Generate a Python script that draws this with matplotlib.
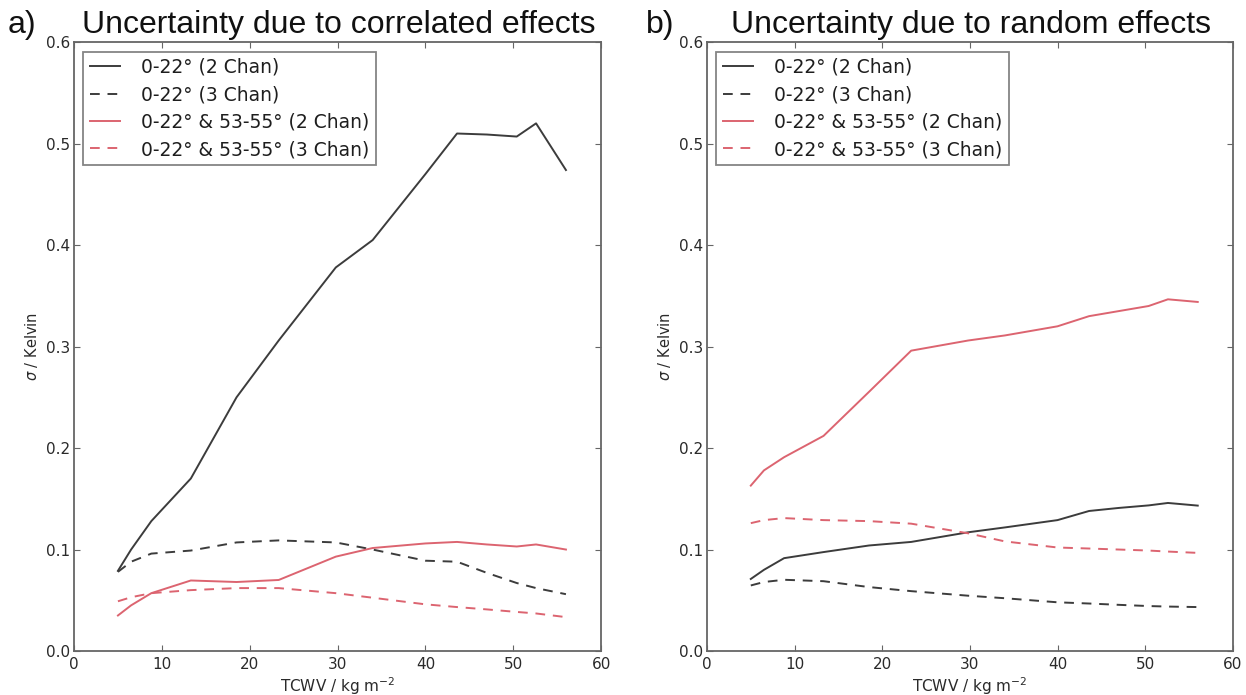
import numpy as np
import matplotlib.pyplot as plt

# total column water vapour bins (kg m^-2)
tcwv = [5, 6.5, 8.8, 13.3, 18.5, 23.3, 29.8, 34, 40, 43.6, 47, 50.4, 52.6, 56]

# a) correlated effects, sigma in Kelvin
corr_nad_2ch = [0.079, 0.100, 0.128, 0.170, 0.250, 0.306, 0.378, 0.405, 0.470, 0.510, 0.509, 0.507, 0.520, 0.474]
corr_nad_3ch = [0.078, 0.088, 0.096, 0.099, 0.107, 0.109, 0.107, 0.100, 0.089, 0.088, 0.077, 0.067, 0.062, 0.056]
corr_dual_2ch = [0.035, 0.045, 0.057, 0.0695, 0.068, 0.070, 0.093, 0.1015, 0.106, 0.1075, 0.105, 0.103, 0.105, 0.100]
corr_dual_3ch = [0.049, 0.053, 0.057, 0.060, 0.062, 0.062, 0.057, 0.0525, 0.046, 0.0433, 0.041, 0.0385, 0.037, 0.0334]

# b) random effects, sigma in Kelvin
rand_nad_2ch = [0.071, 0.080, 0.0915, 0.0975, 0.104, 0.1075, 0.117, 0.1218, 0.129, 0.138, 0.141, 0.1435, 0.1459, 0.1433]
rand_nad_3ch = [0.0646, 0.068, 0.0702, 0.0688, 0.063, 0.059, 0.0545, 0.052, 0.048, 0.0468, 0.0455, 0.0443, 0.0438, 0.0433]
rand_dual_2ch = [0.163, 0.178, 0.191, 0.212, 0.2555, 0.296, 0.306, 0.311, 0.320, 0.330, 0.335, 0.340, 0.3466, 0.344]
rand_dual_3ch = [0.126, 0.129, 0.131, 0.129, 0.128, 0.1255, 0.116, 0.108, 0.102, 0.101, 0.100, 0.099, 0.098, 0.0967]

labels = [u"0-22\u00b0 (2 Chan)", u"0-22\u00b0 (3 Chan)",
          u"0-22\u00b0 & 53-55\u00b0 (2 Chan)", u"0-22\u00b0 & 53-55\u00b0 (3 Chan)"]
titles = ["Uncertainty due to correlated effects", "Uncertainty due to random effects"]
tags = ["a)", "b)"]

BLACK = "#3c3c3c"
RED = "#dc6470"
SPINE = "#666666"
TEXT = "#2a2a2a"

fig = plt.figure(figsize=(12.46, 6.95), dpi=100)
axes = [fig.add_axes([0.0594, 0.0633, 0.423, 0.876]),
        fig.add_axes([0.5674, 0.0633, 0.422, 0.876])]

panels = [(corr_nad_2ch, corr_nad_3ch, corr_dual_2ch, corr_dual_3ch),
          (rand_nad_2ch, rand_nad_3ch, rand_dual_2ch, rand_dual_3ch)]

# heading positions in figure pixels: (title centre x, tag centre x)
heading_x = [(339, 22), (971, 660)]
W, H = 1246.0, 695.0
baseline = 1 - 33 / H

for ax, series, title, tag, (tx, gx) in zip(axes, panels, titles, tags, heading_x):
    styles = [(BLACK, "-"), (BLACK, "--"), (RED, "-"), (RED, "--")]
    for ys, (c, ls), lab in zip(series, styles, labels):
        if ls == "--":
            ax.plot(tcwv, ys, color=c, linestyle=ls, linewidth=1.4, label=lab, dashes=(5, 4))
        else:
            ax.plot(tcwv, ys, color=c, linestyle=ls, linewidth=1.4, label=lab)
    ax.set_xlim(0, 60)
    ax.set_ylim(0, 0.6)
    ax.set_xticks(np.arange(0, 61, 10))
    ax.set_yticks(np.arange(0, 0.61, 0.1))
    ax.set_yticklabels(["%.1f" % v for v in np.arange(0, 0.61, 0.1)])
    ax.tick_params(direction="in", length=4, color=SPINE, labelsize=11,
                   labelcolor=TEXT, top=True, right=True)
    ax.tick_params(axis="x", pad=4)
    ax.tick_params(axis="y", pad=3)
    for s in ax.spines.values():
        s.set_color(SPINE)
        s.set_linewidth(1.3)
    ax.set_xlabel(r"TCWV / kg m$^{-2}$", fontsize=11, color=TEXT, labelpad=3)
    ax.set_ylabel(r"$\sigma$ / Kelvin", fontsize=10.5, color=TEXT, labelpad=4)
    leg = ax.legend(loc="upper left", fontsize=13.5, frameon=True, fancybox=False,
                    handlelength=1.6, handletextpad=1.15, labelspacing=0.45,
                    borderaxespad=0.5, borderpad=0.33)
    leg.get_frame().set_edgecolor(SPINE)
    leg.get_frame().set_linewidth(1.3)
    for t in leg.get_texts():
        t.set_color("#1e1e1e")

    # panel heading above the axes
    fig.text(tx / W, baseline, title, ha="center", va="baseline",
             fontsize=23, family="Liberation Sans", color="#111111")
    fig.text(gx / W, baseline, tag, ha="center", va="baseline",
             fontsize=23, family="Liberation Sans", color="#111111")

fig.savefig("out.png", dpi=100)
